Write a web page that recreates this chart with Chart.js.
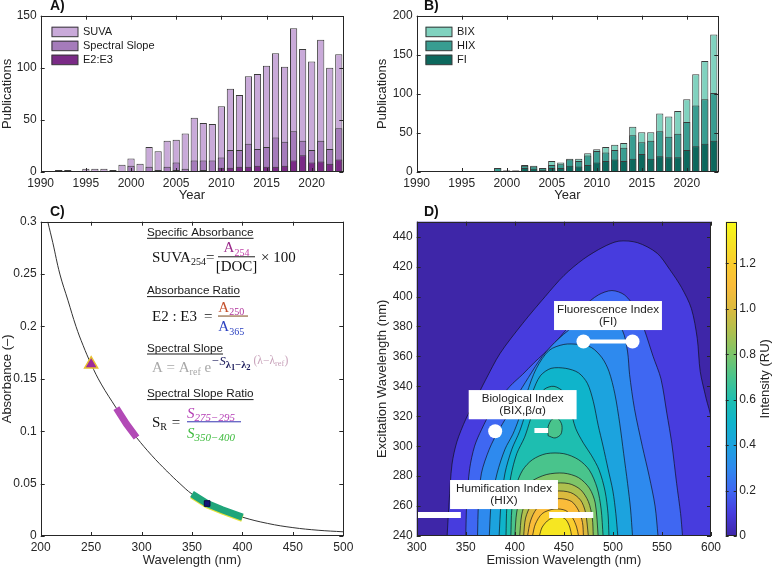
<!DOCTYPE html>
<html>
<head>
<meta charset="utf-8">
<script src="https://cdn.jsdelivr.net/npm/chart.js@4.4.0/dist/chart.umd.min.js"></script>
<style>
  html, body { margin:0; padding:0; background:#ffffff; }
  body { width:774px; height:568px; position:relative; overflow:hidden; }
  canvas { position:absolute; }
</style>
</head>
<body>
<canvas id="chartA" width="390" height="203" style="left:0px;top:0px;width:390px;height:203px"></canvas>
<canvas id="chartB" width="399" height="203" style="left:375px;top:0px;width:399px;height:203px"></canvas>
<canvas id="chartC" width="390" height="373" style="left:0px;top:195px;width:390px;height:373px"></canvas>
<canvas id="chartD" width="350" height="373" style="left:375px;top:195px;width:350px;height:373px"></canvas>
<canvas id="chartCB" width="54" height="373" style="left:720px;top:195px;width:54px;height:373px"></canvas>
<script>
// ---------------- DATA ----------------
// Panel A: UV-Vis indices publications per year
const yearsA = [1992,1993,1994,1995,1996,1997,1998,1999,2000,2001,2002,2003,2004,2005,2006,2007,2008,2009,2010,2011,2012,2013,2014,2015,2016,2017,2018,2019,2020,2021,2022,2023];
const suva          = [2,2,0,3,3,3,2,7,13,8,24,20,30,31,37,52,47,46,63,80,74,92,94,102,114,101,138,118,106,127,100,113];
const spectralSlope = [2,0,0,1,1,1,0,0,6,1,5,2,5,9,3,11,11,11,14,21,21,27,22,24,33,29,39,30,21,30,22,42];
const e2e3          = [1,0,0,0,1,1,0,0,1,0,1,1,1,2,1,1,2,1,4,4,5,5,6,5,5,6,11,16,9,10,8,12];
// Panel B: fluorescence indices publications per year
const yearsB = [1999,2000,2001,2002,2003,2004,2005,2006,2007,2008,2009,2010,2011,2012,2013,2014,2015,2016,2017,2018,2019,2020,2021,2022,2023];
const bix = [5,2,2,9,8,5,14,12,17,17,24,29,32,35,37,58,51,51,75,71,78,93,125,142,176];
const hix = [5,2,2,8,7,5,9,10,16,14,21,27,25,28,31,47,38,40,52,45,49,64,85,93,101];
const fi  = [0,1,1,5,4,3,5,5,8,7,9,12,14,16,14,17,23,17,20,19,19,28,33,36,40];
const yearTicks = [1990,1995,2000,2005,2010,2015,2020];
const pubTicksA = [0,50,100,150];
const pubTicksB = [0,50,100,150,200];
// Panel C: absorbance spectrum
const wavelength = [207,212,219,227,235,242,250,260,275,285,295,310,325,338,350,365,380,400,425,450,475,500];
const absorbance = [0.300,0.280,0.250,0.225,0.200,0.182,0.164,0.145,0.122,0.107,0.094,0.077,0.062,0.050,0.040,0.031,0.025,0.018,0.012,0.008,0.0055,0.004];
const slopeRange1 = [275,295];
const slopeRange2 = [350,400];
const suvaPoint = [250,0.164];
const e3Point = [365,0.031];
const wlTicks = [200,250,300,350,400,450,500];
const absTicks = [0,0.05,0.1,0.15,0.2,0.25,0.3];
// Panel D: EEM contour levels (emission nm, excitation nm)
const contourLevels = [0.1,0.2,0.3,0.4,0.5,0.6,0.7,0.8,0.9,1.0,1.1,1.2,1.3];
const ctr01 = [[331,240],[333,262],[336,288],[341,303],[350,318],[360,331],[370,344],[385,362],[408,382],[431,400],[450,414],[470,425],[490,433],[506,437],[525,436],[545,429],[558,418],[570,406],[580,392],[586,372],[589,350],[595,332],[600,318],[600,240]];
const ctr02 = [[350,240],[351,262],[354,285],[359,300],[366,311],[378,326],[395,340],[408,348],[420,356],[438,367],[455,380],[470,393],[485,401],[499,404],[512,401],[524,391],[532,378],[541,360],[549,345],[555,322],[560,302],[565,275],[569,255],[571,240]];
const ctr03 = [[362,240],[363,262],[366,282],[374,298],[383,310],[392,320],[401,332],[414,346],[428,360],[445,372],[465,382],[485,386],[500,384],[510,377],[515,363],[517,348],[522,325],[530,300],[537,280],[543,260],[546,240]];
const ctr04 = [[374,240],[376,262],[382,282],[390,298],[398,308],[404,318],[412,335],[422,352],[435,364],[450,368],[465,368],[478,366],[489,359],[496,350],[502,335],[507,315],[511,295],[515,275],[518,258],[520,240]];
const ctr05 = [[384,240],[386,262],[390,282],[397,298],[405,310],[411,322],[418,336],[426,347],[437,352],[452,352],[465,349],[474,342],[480,330],[485,314],[490,300],[495,285],[500,270],[503,255],[505,240]];
const ctr06 = [[391,240],[392,260],[396,280],[402,295],[410,306],[416,318],[422,330],[430,338],[440,340],[450,336],[456,326],[462,312],[470,302],[478,294],[486,284],[492,270],[495,255],[496,240]];
const ctr07 = [[396,240],[397,258],[401,273],[408,284],[418,291],[432,295],[450,295],[465,291],[476,284],[484,272],[488,258],[490,240]];
const ctr07b = [[434,307],[434,313],[438,318],[444,318.5],[448,314],[447,308],[441,305.5],[434,307]];
const ctr08 = [[400,240],[402,256],[407,268],[416,276],[432,281],[450,282],[465,279],[476,272],[482,262],[485,240]];
const ctr09 = [[405,240],[407,254],[412,264],[422,271],[438,275],[455,275],[467,271],[475,263],[479,252],[480,240]];
const ctr10 = [[409,240],[411,252],[417,261],[427,267],[442,270],[457,269],[467,264],[472,256],[475,240]];
const ctr11 = [[413,240],[416,250],[422,258],[432,263],[446,265],[458,263],[465,257],[469,249],[470,240]];
const ctr12 = [[418,240],[421,248],[428,255],[440,258],[452,257],[459,252],[463,246],[465,240]];
const ctr13 = [[425,240],[428,246],[435,251],[445,253],[452,251],[456,246],[458,240]];
const fiPoints = [[470,370],[520,370]];
const bixPoint = [[380,310]];
const bixBar = [[420,310.5],[434,310.5]];
const hixBarLow = [[300,254],[345,254]];
const hixBarHigh = [[435,254],[480,254]];
const emTicks = [300,350,400,450,500,550,600];
const exTicks = [240,260,280,300,320,340,360,380,400,420,440];
const intensityMax = 1.383;
const cbTicks = [0,0.2,0.4,0.6,0.8,1.0,1.2];

// ---------------- STYLE ----------------
const SANS = "'Liberation Sans', Arial, Helvetica, sans-serif";
const SERIF = "'Liberation Serif', 'Times New Roman', serif";
const AXC = '#262626';
Chart.defaults.font.family = SANS;
Chart.defaults.color = AXC;

const parulaStops = [
  [0.000, 62, 38,168],[0.072, 71, 60,222],[0.145, 63,103,242],[0.217, 46,138,238],
  [0.289, 28,163,222],[0.362, 15,180,203],[0.434, 30,190,176],[0.507, 74,196,140],
  [0.579,125,197,105],[0.651,175,192, 78],[0.724,220,186, 62],[0.796,250,188, 58],
  [0.868,250,205, 45],[0.941,246,230, 34],[1.000,249,251, 20]];
function parula(t) {
  t = Math.max(0, Math.min(1, t));
  for (let i = 1; i < parulaStops.length; i++) {
    const a = parulaStops[i-1], b = parulaStops[i];
    if (t <= b[0]) {
      const f = (t - a[0]) / (b[0] - a[0]);
      return 'rgb(' + [1,2,3].map(k => Math.round(a[k] + f*(b[k]-a[k]))).join(',') + ')';
    }
  }
  const l = parulaStops[parulaStops.length-1];
  return 'rgb(' + l[1] + ',' + l[2] + ',' + l[3] + ')';
}

function linAxis(o) {
  return {
    type: 'linear', min: o.min, max: o.max, offset: false, bounds: 'data',
    position: o.position, display: o.display === undefined ? true : o.display,
    grid: { display: false, drawTicks: false }, border: { display: false },
    afterBuildTicks: s => { s.ticks = o.ticks.map(v => ({ value: v })); },
    afterFit: s => { if (o.w !== undefined) s.width = o.w; if (o.h !== undefined) s.height = o.h; },
    ticks: { autoSkip: false, maxRotation: 0, minRotation: 0, padding: o.pad === undefined ? 4 : o.pad,
             font: { size: 12 }, color: AXC, callback: o.fmt || (v => String(v)) },
    title: o.title ? { display: true, text: o.title, font: { size: 13 }, color: AXC, padding: { top: 0, bottom: 0 } } : { display: false }
  };
}

const framePlugin = {
  id: 'frame',
  afterDatasetsDraw(chart, args, opts) {
    const { ctx, chartArea: a } = chart;
    const L = opts.len || 4;
    ctx.save();
    ctx.strokeStyle = AXC; ctx.lineWidth = 1;
    ctx.beginPath();
    Object.values(chart.scales).forEach(s => {
      if (s.options.display === false) return;
      s.ticks.forEach(t => {
        const p = Math.round(s.getPixelForValue(t.value)) + 0.5;
        if (s.isHorizontal()) {
          ctx.moveTo(p, a.bottom); ctx.lineTo(p, a.bottom - L);
          ctx.moveTo(p, a.top); ctx.lineTo(p, a.top + L);
        } else {
          ctx.moveTo(a.left, p); ctx.lineTo(a.left + L, p);
          ctx.moveTo(a.right, p); ctx.lineTo(a.right - L, p);
        }
      });
    });
    ctx.stroke();
    ctx.strokeRect(Math.round(a.left) + 0.5, Math.round(a.top) + 0.5, Math.round(a.width) - 1, Math.round(a.height) - 1);
    ctx.restore();
  }
};

const panelLabel = {
  id: 'panelLabel',
  afterDraw(chart, args, opts) {
    if (!opts.text) return;
    const ctx = chart.ctx;
    ctx.save();
    ctx.font = 'bold 14px ' + SANS;
    ctx.fillStyle = '#111';
    ctx.textBaseline = 'middle';
    ctx.textAlign = 'left';
    ctx.fillText(opts.text, opts.x, opts.y);
    ctx.restore();
  }
};

const boxLegend = {
  id: 'boxLegend',
  afterDraw(chart, args, opts) {
    if (!opts.x) return;
    const ctx = chart.ctx;
    const items = chart.data.datasets.slice().sort((p, q) => q.order - p.order);
    ctx.save();
    ctx.font = '11px ' + SANS;
    ctx.textBaseline = 'middle';
    items.forEach((d, i) => {
      const cy = opts.y + i * 14;
      ctx.fillStyle = d.backgroundColor;
      ctx.fillRect(opts.x, cy - 5, 26.5, 10);
      ctx.strokeStyle = '#3a3a3a'; ctx.lineWidth = 1;
      ctx.strokeRect(opts.x + 0.5, cy - 5 + 0.5, 26, 9.5);
      ctx.fillStyle = '#1a1a1a';
      ctx.fillText(d.label, opts.x + 31.5, cy + 0.5);
    });
    ctx.restore();
  }
};

function barDs(label, xs, ys, color, order) {
  return { label, data: xs.map((x, i) => ({ x, y: ys[i] })), backgroundColor: color,
           borderColor: '#3a3a3a', borderWidth: 1, grouped: false, barPercentage: 0.8,
           categoryPercentage: 1, order };
}

function barChart(id, datasets, yMax, yTicks, label, lx) {
  return new Chart(document.getElementById(id), {
    type: 'bar',
    data: { datasets },
    options: {
      responsive: false, animation: false, events: [],
      layout: { padding: { left: 0, top: 15.7, right: id === 'chartA' ? 46.7 : 55.7, bottom: 0 } },
      scales: {
        x: linAxis({ min: 1990, max: 2023.5, ticks: yearTicks, title: 'Year', h: 31 }),
        y: linAxis({ min: 0, max: yMax, ticks: yTicks, title: 'Publications', w: id === 'chartA' ? 40.7 : 41.7 })
      },
      plugins: {
        legend: { display: false }, tooltip: { enabled: false },
        frame: { len: 4 },
        panelLabel: { text: label, x: lx, y: 6 },
        boxLegend: { x: lx + 1.5, y: 31.7 }
      }
    },
    plugins: [framePlugin, panelLabel, boxLegend]
  });
}

// ---------------- PANEL A ----------------
barChart('chartA', [
  barDs('E2:E3', yearsA, e2e3, '#7a2a86', 1),
  barDs('Spectral Slope', yearsA, spectralSlope, '#a57bbb', 2),
  barDs('SUVA', yearsA, suva, '#c9aad9', 3)
], 150, pubTicksA, 'A)', 50);

// ---------------- PANEL B ----------------
barChart('chartB', [
  barDs('FI', yearsB, fi, '#0c685d', 1),
  barDs('HIX', yearsB, hix, '#389d91', 2),
  barDs('BIX', yearsB, bix, '#80d2bf', 3)
], 200, pubTicksB, 'B)', 49);

// ---------------- PANEL C ----------------
const curve = wavelength.map((w, i) => ({ x: w, y: absorbance[i] }));
const seg1 = curve.filter(p => p.x >= slopeRange1[0] && p.x <= slopeRange1[1]);
const seg2 = curve.filter(p => p.x >= slopeRange2[0] && p.x <= slopeRange2[1]);

function runs(ctx, x, y, list) {
  for (const r of list) {
    const [t, size, color, dy, style] = r;
    ctx.font = (style || '') + ' ' + size + 'px ' + SERIF;
    ctx.fillStyle = color;
    ctx.fillText(t, x, y + (dy || 0));
    x += ctx.measureText(t).width;
  }
  return x;
}
function runsWidth(ctx, list) {
  let w = 0;
  for (const r of list) { ctx.font = (r[4] || '') + ' ' + r[1] + 'px ' + SERIF; w += ctx.measureText(r[0]).width; }
  return w;
}
function heading(ctx, text, x, y) {
  ctx.font = '11.7px ' + SANS;
  ctx.fillStyle = '#1a1a1a';
  ctx.fillText(text, x, y);
  const w = ctx.measureText(text).width;
  ctx.fillRect(x, y + 1.8, w, 1);
}
function hbar(ctx, x1, x2, y, color) {
  ctx.fillStyle = color;
  ctx.fillRect(x1, y - 0.5, x2 - x1, 1.1);
}

const equations = {
  id: 'equations',
  afterDraw(chart) {
    const ctx = chart.ctx;
    ctx.save();
    ctx.textBaseline = 'alphabetic';
    ctx.textAlign = 'left';
    const K = '#111';
    // Specific absorbance
    heading(ctx, 'Specific Absorbance', 147, 41);
    runs(ctx, 152, 66.7, [['SUVA', 15, K], ['254', 10, K, 3.5]]);
    runs(ctx, 206, 66.7, [['=', 15, K]]);
    const n1 = [['A', 15, '#9a2a8a'], ['254', 10, '#c040a8', 3.5]];
    runs(ctx, 236.5 - runsWidth(ctx, n1) / 2, 57.3, n1);
    hbar(ctx, 218, 255, 61.7, '#333');
    const d1 = [['[DOC]', 15, K]];
    runs(ctx, 236.5 - runsWidth(ctx, d1) / 2, 75.5, d1);
    runs(ctx, 261, 66.7, [['× 100', 15, K]]);
    // Absorbance ratio
    heading(ctx, 'Absorbance Ratio', 147, 99.3);
    runs(ctx, 152, 126, [['E2 : E3', 15, K]]);
    runs(ctx, 204, 126, [['=', 15, K]]);
    runs(ctx, 218.3, 116.7, [['A', 15, '#c4502c'], ['250', 10, '#b0309a', 3.5]]);
    hbar(ctx, 218, 248, 121, '#8a5a30');
    runs(ctx, 218.3, 136, [['A', 15, '#2a40c0'], ['365', 10, '#2a40c0', 3.5]]);
    // Spectral slope
    heading(ctx, 'Spectral Slope', 147, 156.7);
    const G = '#a8a8a8', P = '#c8a2ba', N = '#1a1a5a';
    runs(ctx, 152, 176.7, [['A = A', 15, G], ['ref', 10, G, 3.5], [' e', 15, G],
      ['−S', 12.5, N, -7, 'italic'], ['λ', 10.5, N, -3.5, 'bold'], ['1', 8.5, N, -2, 'bold'], ['−λ', 10.5, N, -3.5, 'bold'], ['2', 8.5, N, -2, 'bold'],
      [' (λ−λ', 11.5, P, -8], ['ref', 8.5, P, -5.5], [')', 11.5, P, -8]]);
    // Spectral slope ratio
    heading(ctx, 'Spectral Slope Ratio', 147, 202.3);
    runs(ctx, 152, 231.7, [['S', 15, K], ['R', 10, K, 3.5]]);
    runs(ctx, 171.7, 231.7, [['=', 15, K]]);
    runs(ctx, 187, 222.7, [['S', 15, '#b43cb4', 0, 'italic'], ['275−295', 11, '#b43cb4', 3.5, 'italic']]);
    hbar(ctx, 187, 241, 226.7, '#4848b8');
    runs(ctx, 187, 242.5, [['S', 15, '#3cba3c', 0, 'italic'], ['350−400', 11, '#3cba3c', 3.5, 'italic']]);
    ctx.restore();
  }
};

new Chart(document.getElementById('chartC'), {
  type: 'scatter',
  data: { datasets: [
    { label: 'A250', data: [{ x: suvaPoint[0], y: suvaPoint[1] }], pointStyle: 'triangle', pointRadius: 7.5,
      pointBackgroundColor: '#9c2b9c', pointBorderColor: '#e8c030', pointBorderWidth: 1.5, order: 1 },
    { label: 'A365', data: [{ x: e3Point[0], y: e3Point[1] }], pointStyle: 'rect', pointRadius: 4,
      pointBackgroundColor: '#16167a', pointBorderColor: '#0a0a40', pointBorderWidth: 1, order: 2 },
    { label: 'S350-400', data: seg2, showLine: true, borderColor: '#1fa57a', borderWidth: 7, pointRadius: 0, borderCapStyle: 'butt', order: 3 },
    { label: 'S350-400 edge', data: seg2.map(p => ({ x: p.x, y: p.y - 0.0012 })), showLine: true, borderColor: '#e6e23a', borderWidth: 7, pointRadius: 0, borderCapStyle: 'butt', order: 4 },
    { label: 'S275-295', data: seg1, showLine: true, borderColor: '#b24ab6', borderWidth: 7, pointRadius: 0, borderCapStyle: 'butt', order: 5 },
    { label: 'Absorbance', data: curve, showLine: true, borderColor: '#333', borderWidth: 1, pointRadius: 0, tension: 0.4, order: 6 }
  ] },
  options: {
    responsive: false, animation: false, events: [],
    layout: { padding: { left: 0, top: 26.7, right: 46.7, bottom: 0 } },
    scales: {
      x: linAxis({ min: 200, max: 500, ticks: wlTicks, title: 'Wavelength (nm)', h: 32 }),
      y: linAxis({ min: 0, max: 0.3, ticks: absTicks, title: 'Absorbance (–)', w: 40.7 })
    },
    plugins: { legend: { display: false }, tooltip: { enabled: false }, frame: { len: 4 },
               panelLabel: { text: 'C)', x: 50, y: 17.5 } }
  },
  plugins: [framePlugin, panelLabel, equations]
});

// ---------------- PANEL D ----------------
const ctrSets = [ctr01, ctr02, ctr03, ctr04, ctr05, ctr06, ctr07, ctr08, ctr09, ctr10, ctr11, ctr12, ctr13];
const toXY = arr => arr.map(p => ({ x: p[0], y: p[1] }));
const dDatasets = [];
ctrSets.forEach((pts, k) => {
  dDatasets.push({ label: 'level ' + contourLevels[k], data: toXY(pts), showLine: true, fill: 'shape',
    backgroundColor: parula(contourLevels[k] / intensityMax), borderColor: 'rgba(15,15,25,0.85)', borderWidth: 0.8,
    pointRadius: 0, tension: 0.3, order: 100 - k });
  if (k === 6) {
    dDatasets.push({ label: 'level 0.7 island', data: toXY(ctr07b), showLine: true, fill: 'shape',
      backgroundColor: parula(contourLevels[k] / intensityMax), borderColor: 'rgba(15,15,25,0.85)', borderWidth: 0.8,
      pointRadius: 0, tension: 0.3, order: 80 });
  }
});
dDatasets.push({ label: 'FI', data: toXY(fiPoints), showLine: true, borderColor: '#fff', borderWidth: 4,
  pointRadius: 7, pointBackgroundColor: '#fff', pointBorderWidth: 0, order: 1 });
dDatasets.push({ label: 'BIX', data: toXY(bixPoint), pointRadius: 7, pointBackgroundColor: '#fff', pointBorderWidth: 0, order: 1 });
dDatasets.push({ label: 'BIX bar', data: toXY(bixBar), showLine: true, borderColor: '#fff', borderWidth: 5, borderCapStyle: 'butt', pointRadius: 0, order: 1 });
dDatasets.push({ label: 'HIX low', data: toXY(hixBarLow), showLine: true, borderColor: '#fff', borderWidth: 6, borderCapStyle: 'butt', pointRadius: 0, order: 1 });
dDatasets.push({ label: 'HIX high', data: toXY(hixBarHigh), showLine: true, borderColor: '#fff', borderWidth: 6, borderCapStyle: 'butt', pointRadius: 0, order: 1 });

const dBoxes = [
  { lines: ['Fluorescence Index', '(FI)'], em: [440, 550], ex: [377.6, 397] },
  { lines: ['Biological Index', '(BIX,β/α)'], em: [353, 463], ex: [318, 337.5] },
  { lines: ['Humification Index', '(HIX)'], em: [334, 444], ex: [258, 277.4] }
];

const eemDecor = {
  id: 'eemDecor',
  beforeDatasetsDraw(chart) {
    const { ctx, chartArea: a } = chart;
    ctx.save();
    ctx.fillStyle = parula(0);
    ctx.fillRect(a.left, a.top, a.width, a.height);
    ctx.restore();
  },
  afterDatasetsDraw(chart) {
    const { ctx } = chart;
    const xs = chart.scales.x, ys = chart.scales.y;
    ctx.save();
    dBoxes.forEach(b => {
      const x1 = xs.getPixelForValue(b.em[0]), x2 = xs.getPixelForValue(b.em[1]);
      const y1 = ys.getPixelForValue(b.ex[1]), y2 = ys.getPixelForValue(b.ex[0]);
      ctx.fillStyle = '#fff';
      ctx.fillRect(x1, y1, x2 - x1, y2 - y1);
      ctx.fillStyle = '#1e1e1e';
      ctx.font = '11.7px ' + SANS;
      ctx.textAlign = 'center';
      ctx.textBaseline = 'middle';
      const cx = (x1 + x2) / 2, cy = (y1 + y2) / 2;
      ctx.fillText(b.lines[0], cx, cy - 6.2);
      ctx.fillText(b.lines[1], cx, cy + 6.2);
    });
    ctx.restore();
  }
};

new Chart(document.getElementById('chartD'), {
  type: 'scatter',
  data: { datasets: dDatasets },
  options: {
    responsive: false, animation: false, events: [],
    layout: { padding: { left: 0, top: 26.7, right: 6.7, bottom: 0 } },
    scales: {
      x: linAxis({ min: 300, max: 600, ticks: emTicks, title: 'Emission Wavelength (nm)', h: 32 }),
      y: linAxis({ min: 240, max: 450, ticks: exTicks, title: 'Excitation Wavelength (nm)', w: 41.7 })
    },
    plugins: { legend: { display: false }, tooltip: { enabled: false }, frame: { len: 4 },
               panelLabel: { text: 'D)', x: 49, y: 17.5 } }
  },
  plugins: [eemDecor, framePlugin, panelLabel]
});

// ---------------- COLORBAR ----------------
const cbPlugin = {
  id: 'cbPlugin',
  beforeDatasetsDraw(chart) {
    const { ctx, chartArea: a } = chart;
    const ys = chart.scales.y;
    const g = ctx.createLinearGradient(0, ys.getPixelForValue(0), 0, ys.getPixelForValue(intensityMax));
    parulaStops.forEach(s => g.addColorStop(s[0], 'rgb(' + s[1] + ',' + s[2] + ',' + s[3] + ')'));
    ctx.save();
    ctx.fillStyle = g;
    ctx.fillRect(a.left, a.top, a.width, a.height);
    ctx.restore();
  },
  afterDraw(chart) {
    const ctx = chart.ctx;
    const a = chart.chartArea;
    ctx.save();
    ctx.translate(45.5, (a.top + a.bottom) / 2);
    ctx.rotate(-Math.PI / 2);
    ctx.font = '13px ' + SANS;
    ctx.fillStyle = AXC;
    ctx.textAlign = 'center';
    ctx.textBaseline = 'middle';
    ctx.fillText('Intensity (RU)', 0, 0);
    ctx.restore();
  }
};
new Chart(document.getElementById('chartCB'), {
  type: 'scatter',
  data: { datasets: [] },
  options: {
    responsive: false, animation: false, events: [],
    layout: { padding: { left: 5.7, top: 26.7, right: 0, bottom: 32 } },
    scales: {
      x: { type: 'linear', display: false, min: 0, max: 1 },
      y: linAxis({ min: 0, max: intensityMax, ticks: cbTicks, position: 'right', w: 37.3, pad: 2.5,
                   fmt: v => (v === 0 ? '0' : v.toFixed(1)) })
    },
    plugins: { legend: { display: false }, tooltip: { enabled: false }, frame: { len: 3 } }
  },
  plugins: [cbPlugin, framePlugin]
});
</script>
</body>
</html>
